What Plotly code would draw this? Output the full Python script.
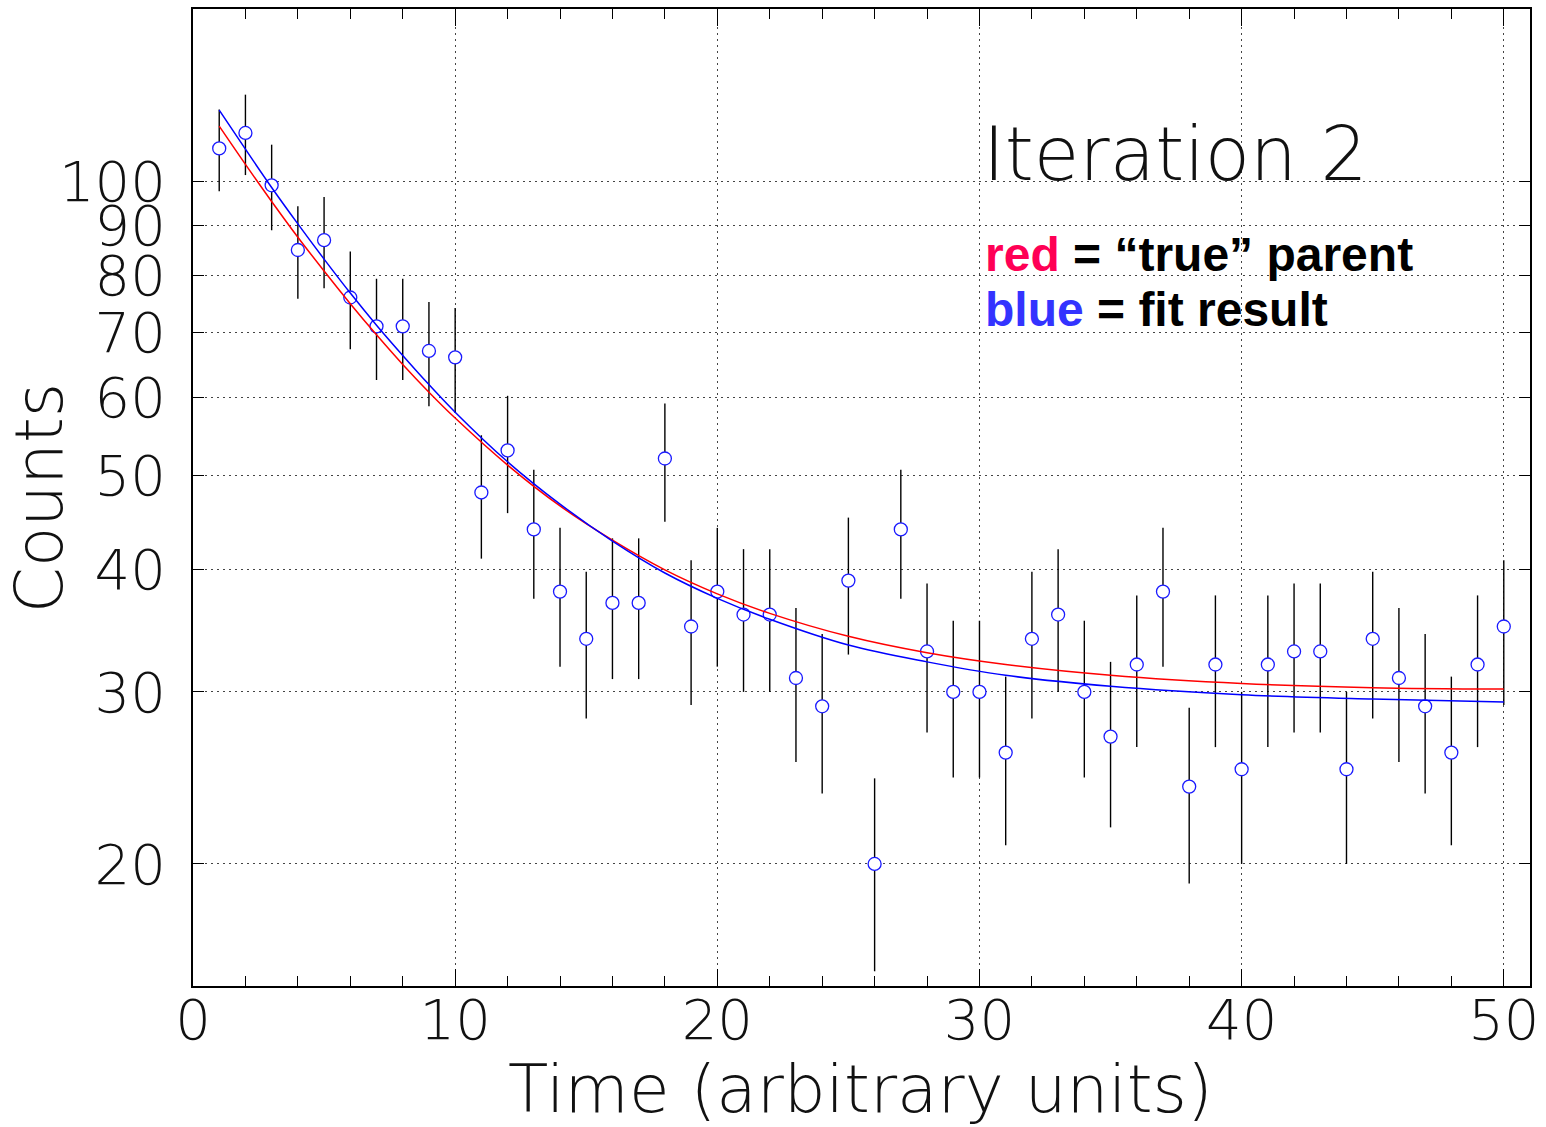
import plotly.graph_objects as go

# ---- data ----
time = list(range(1, 51))
counts = [108, 112, 99, 85, 87, 76, 71, 71, 67, 66,
          48, 53, 44, 38, 34, 37, 37, 52, 35, 38,
          36, 36, 31, 29, 39, 20, 44, 33, 30, 30,
          26, 34, 36, 30, 27, 32, 38, 24, 32, 25,
          32, 33, 33, 25, 34, 31, 29, 26, 32, 35]
count_errors = [10.39, 10.58, 9.95, 9.22, 9.33, 8.72, 8.43, 8.43, 8.19, 8.12,
                6.93, 7.28, 6.63, 6.16, 5.83, 6.08, 6.08, 7.21, 5.92, 6.16,
                6.00, 6.00, 5.57, 5.39, 6.24, 4.47, 6.63, 5.74, 5.48, 5.48,
                5.10, 5.83, 6.00, 5.48, 5.20, 5.66, 6.16, 4.90, 5.66, 5.00,
                5.66, 5.74, 5.74, 5.00, 5.83, 5.57, 5.39, 5.10, 5.66, 5.92]

curve_t = [1, 2, 3, 4, 5, 6, 7, 8, 9, 10, 12, 14, 16, 18, 20, 22, 25, 28, 31, 35, 40, 45, 50]
true_parent = [113.8, 104.0, 95.3, 87.6, 80.9, 74.9, 69.6, 64.9, 60.8, 57.2, 51.2, 46.5,
               42.9, 40.0, 37.8, 36.1, 34.2, 32.9, 32.0, 31.2, 30.6, 30.3, 30.2]
fit_result = [118.2, 107.8, 98.5, 90.4, 83.2, 76.8, 71.2, 66.3, 61.9, 58.0, 51.6, 46.7,
              42.8, 39.7, 37.4, 35.6, 33.5, 32.2, 31.2, 30.4, 29.8, 29.5, 29.3]

y_ticks = [20, 30, 40, 50, 60, 70, 80, 90, 100]
x_ticks = [0, 10, 20, 30, 40, 50]

FAM = "'DejaVu Sans', Lato, sans-serif"
WT = 200
INK = "#111111"

fig = go.Figure()
fig.add_trace(go.Scatter(
    x=time, y=counts, mode="markers",
    marker=dict(symbol="circle", size=13, color="white",
                line=dict(color="#1a1aff", width=1.3)),
    error_y=dict(type="data", array=count_errors, visible=True,
                 color="black", thickness=1.4, width=0),
    showlegend=False))
fig.add_trace(go.Scatter(
    x=curve_t, y=true_parent, mode="lines",
    line=dict(color="#ff0000", width=1.5, shape="spline"), showlegend=False))
fig.add_trace(go.Scatter(
    x=curve_t, y=fit_result, mode="lines",
    line=dict(color="#0000ff", width=1.5, shape="spline"), showlegend=False))

fig.update_layout(
    width=1546, height=1127,
    margin=dict(l=193, r=15, t=7, b=141),
    paper_bgcolor="white", plot_bgcolor="white",
    font=dict(family=FAM, weight=WT, color=INK),
)
fig.update_xaxes(
    range=[0, 51], tickvals=x_ticks, ticktext=[str(v) for v in x_ticks],
    ticks="inside", ticklen=17, tickwidth=1.3, tickcolor="black",
    minor=dict(dtick=2, tick0=0, ticks="inside", ticklen=10, tickwidth=1.3,
               tickcolor="black", showgrid=False),
    showline=True, linecolor="black", linewidth=2, mirror="ticks",
    showgrid=True, gridcolor="#444444", gridwidth=1, griddash="2px,4px",
    zeroline=False, ticklabelstandoff=-16,
    tickfont=dict(family=FAM, weight=WT, size=56, color=INK),
)
fig.update_yaxes(
    type="log", range=[1.1761, 2.1761],
    tickvals=y_ticks, ticktext=[str(v) for v in y_ticks],
    ticks="inside", ticklen=11, tickwidth=1.3, tickcolor="black",
    showline=True, linecolor="black", linewidth=2, mirror="ticks",
    showgrid=True, gridcolor="#444444", gridwidth=1, griddash="2px,4px",
    zeroline=False, ticklabelstandoff=14,
    tickfont=dict(family=FAM, weight=WT, size=56, color=INK),
)

annotations = [
    dict(text="Counts", xref="paper", yref="paper", x=-0.1143, y=0.4995,
         textangle=-90, showarrow=False, xanchor="center", yanchor="middle",
         font=dict(family=FAM, weight=WT, size=66, color=INK)),
    dict(text="Time (arbitrary units)", xref="paper", yref="paper",
         x=0.4989, y=-0.1062, showarrow=False, xanchor="center", yanchor="middle",
         font=dict(family=FAM, weight=WT, size=66, color=INK)),
    dict(text="Iteration 2", xref="paper", yref="paper",
         x=(982 - 193) / 1338, y=(986 - 152) / 979, showarrow=False,
         xanchor="left", yanchor="middle",
         font=dict(family=FAM, weight=WT, size=74, color=INK)),
    dict(text="<b><span style='color:#ff0055'>red</span> = \u201ctrue\u201d parent</b>",
         xref="paper", yref="paper", x=(984 - 193) / 1338, y=(986 - 253) / 979,
         showarrow=False, xanchor="left", yanchor="middle",
         font=dict(family="Liberation Sans, Arial, sans-serif", size=48, color="black")),
    dict(text="<b><span style='color:#3333ff'>blue</span> = fit result</b>",
         xref="paper", yref="paper", x=(984 - 193) / 1338, y=(986 - 308) / 979,
         showarrow=False, xanchor="left", yanchor="middle",
         font=dict(family="Liberation Sans, Arial, sans-serif", size=48, color="black")),
]
fig.update_layout(annotations=annotations)

fig.write_html("out.html")
